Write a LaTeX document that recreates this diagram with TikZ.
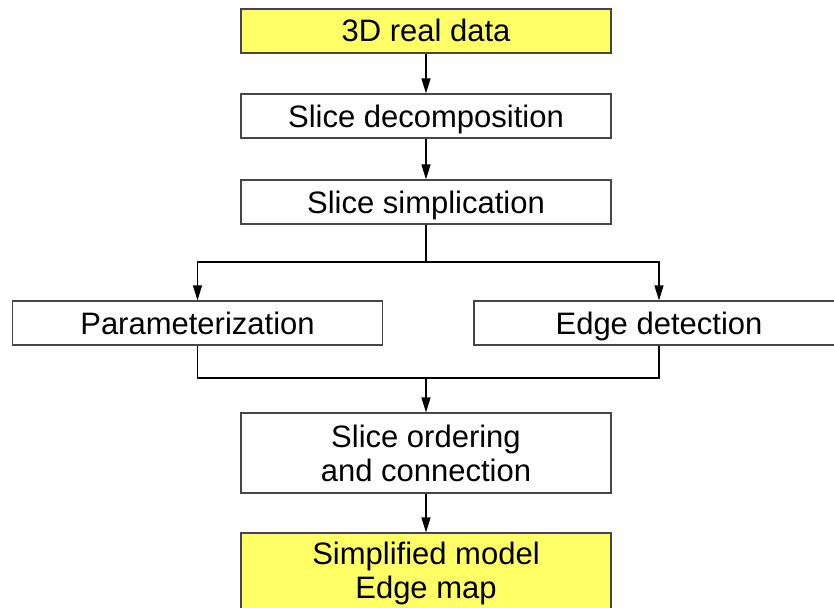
\documentclass[tikz,border=0pt]{standalone}
\usepackage{fontspec}
\setmainfont{Liberation Sans}
\usetikzlibrary{arrows.meta}
\definecolor{inputyellow}{RGB}{255,255,102}
\definecolor{boxgray}{RGB}{70,70,70}

\begin{document}
\begin{tikzpicture}[x=1pt,y=-1pt,
  stage/.style={draw=boxgray,line width=1.2pt,minimum width=370pt,minimum height=44pt,
    inner sep=0pt,align=center,text height=22pt,text depth=0pt,
    font=\fontsize{31}{34}\selectfont},
  ends/.style={stage,fill=inputyellow},
  twoline/.style={minimum height=80pt,text height=,text depth=},
  flow/.style={line width=1.2pt,-{Triangle[width=9pt,length=15pt]}}]
  % Page frame (right and bottom boxes run off the edge)
  \useasboundingbox (0,0) rectangle (834,607);
  \clip (0,0) rectangle (834,607);
  % Main column
  \node[ends]  (data)   at (426,31)  {3D real data};
  \node[stage] (decomp) at (426,116) {Slice decomposition};
  \node[stage] (simp)   at (426,202) {Slice simplication};
  % Two parallel branches
  \node[stage] (param)  at (197.5,323) {Parameterization};
  \node[stage] (edge)   at (659,323)   {Edge detection};
  % Merge and result
  \node[stage,twoline] (order)  at (426,453) {Slice ordering\\and connection};
  \node[ends,twoline]  (result) at (426,573) {Simplified model\\Edge map};
  % Split and join points
  \coordinate (split) at (426,262);
  \coordinate (join)  at (426,378);
  % Connectors
  \draw[flow] (data) -- (decomp);
  \draw[flow] (decomp) -- (simp);
  \draw[line width=1.2pt] (simp) -- (split);
  \draw[flow] (split) -| (param);
  \draw[flow] (split) -| (edge);
  \draw[line width=1.2pt] (param) |- (join) -| (edge);
  \draw[flow] (join) -- (order);
  \draw[flow] (order) -- (result);
\end{tikzpicture}
\end{document}
